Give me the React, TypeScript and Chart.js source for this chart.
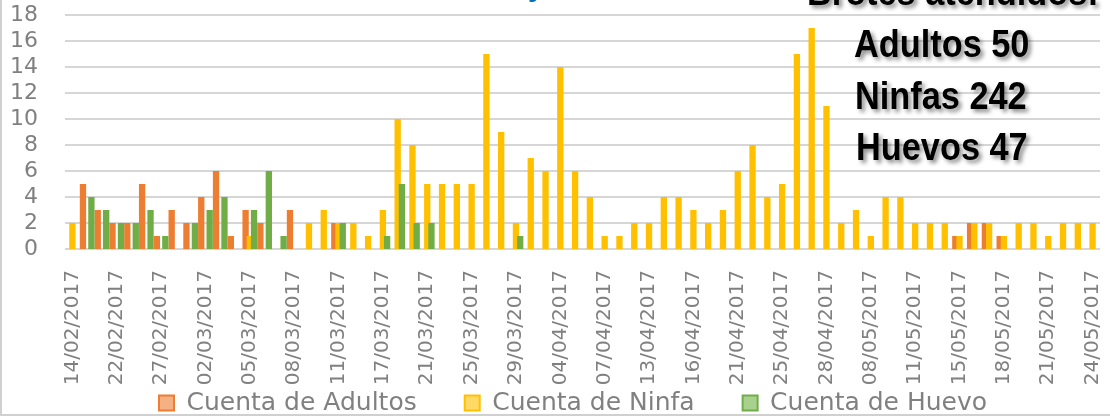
import React, { useEffect, useRef } from 'react';
import { Chart, registerables } from 'chart.js';

Chart.register(...registerables);

// Categories (observation dates)
const dates: string[] = [
  '14/02/2017', '16/02/2017', '20/02/2017', '22/02/2017', '23/02/2017', '24/02/2017', '27/02/2017', '28/02/2017', '01/03/2017', '02/03/2017',
  '03/03/2017', '04/03/2017', '05/03/2017', '06/03/2017', '07/03/2017', '08/03/2017', '09/03/2017', '10/03/2017', '11/03/2017', '14/03/2017',
  '16/03/2017', '17/03/2017', '18/03/2017', '20/03/2017', '21/03/2017', '22/03/2017', '23/03/2017', '25/03/2017', '27/03/2017', '28/03/2017',
  '29/03/2017', '30/03/2017', '31/03/2017', '04/04/2017', '05/04/2017', '06/04/2017', '07/04/2017', '10/04/2017', '11/04/2017', '13/04/2017',
  '14/04/2017', '15/04/2017', '16/04/2017', '18/04/2017', '20/04/2017', '21/04/2017', '22/04/2017', '24/04/2017', '25/04/2017', '26/04/2017',
  '27/04/2017', '28/04/2017', '02/05/2017', '05/05/2017', '08/05/2017', '09/05/2017', '10/05/2017', '11/05/2017', '12/05/2017', '13/05/2017',
  '15/05/2017', '16/05/2017', '17/05/2017', '18/05/2017', '19/05/2017', '20/05/2017', '21/05/2017', '22/05/2017', '23/05/2017', '24/05/2017',
];

// Series values
const adultos: number[] = [
  0, 5, 3, 2, 2, 5, 1, 3, 2, 4,
  6, 1, 3, 2, 0, 3, 0, 0, 2, 0,
  0, 0, 0, 0, 0, 0, 0, 0, 0, 0,
  0, 0, 0, 0, 0, 0, 0, 0, 0, 0,
  0, 0, 0, 0, 0, 0, 0, 0, 0, 0,
  0, 0, 0, 0, 0, 0, 0, 0, 0, 0,
  1, 2, 2, 1, 0, 0, 0, 0, 0, 0,
];

const ninfas: number[] = [
  2, 0, 0, 0, 0, 0, 0, 0, 0, 0,
  0, 0, 1, 0, 0, 0, 2, 3, 2, 2,
  1, 3, 10, 8, 5, 5, 5, 5, 15, 9,
  2, 7, 6, 14, 6, 4, 1, 1, 2, 2,
  4, 4, 3, 2, 3, 6, 8, 4, 5, 15,
  17, 11, 2, 3, 1, 4, 4, 2, 2, 2,
  1, 2, 2, 1, 2, 2, 1, 2, 2, 2,
];

const huevos: number[] = [
  0, 4, 3, 2, 2, 3, 1, 0, 2, 3,
  4, 0, 3, 6, 1, 0, 0, 0, 2, 0,
  0, 1, 5, 2, 2, 0, 0, 0, 0, 0,
  1, 0, 0, 0, 0, 0, 0, 0, 0, 0,
  0, 0, 0, 0, 0, 0, 0, 0, 0, 0,
  0, 0, 0, 0, 0, 0, 0, 0, 0, 0,
  0, 0, 0, 0, 0, 0, 0, 0, 0, 0,
];

const seriesNames: string[] = ['Cuenta de Adultos', 'Cuenta de Ninfa', 'Cuenta de Huevo'];
const seriesColors: string[] = ['#ED7D31', '#FFC000', '#70AD47'];
const legendFills: string[] = ['#F4B183', '#FFD966', '#A9D18E'];

const yMin = 0;
const yMax = 18;
const yStep = 2;
const labelEvery = 3;

const summaryTitle = 'Brotes atendidos:';
const summaryNames: string[] = ['Adultos', 'Ninfas', 'Huevos'];

const gridColor = '#c8c8c8';

const sum = (a: number[]) => a.reduce((s, v) => s + v, 0);

// Horizontal value grid (from the y scale ticks) behind the bars, then the
// datasets drawn so that later series sit on top of earlier ones
const drawOrderPlugin = {
  id: 'drawOrder',
  beforeDatasetsDraw(chart: any) {
    const ctx = chart.ctx;
    const area = chart.chartArea;
    const ys = chart.scales.y;
    ctx.save();
    ctx.globalAlpha = 1;
    ctx.globalCompositeOperation = 'source-over';
    ctx.strokeStyle = gridColor;
    ctx.lineWidth = 1.5;
    ctx.setLineDash([]);
    for (const t of ys.ticks) {
      const y = Math.round(ys.getPixelForValue(t.value));
      ctx.beginPath();
      ctx.moveTo(area.left, y);
      ctx.lineTo(area.right, y);
      ctx.stroke();
    }
    ctx.restore();

    ctx.save();
    ctx.beginPath();
    ctx.rect(area.left, area.top - 2, area.right - area.left, area.bottom - area.top + 2);
    ctx.clip();
    for (let i = 0; i < chart.data.datasets.length; i++) {
      const meta = chart.getDatasetMeta(i);
      if (!meta.hidden) meta.controller.draw();
    }
    ctx.restore();
    return false;
  },
};

// Place the legend row where the original has it
const legendPlacePlugin = {
  id: 'legendPlace',
  afterLayout(chart: any) {
    const lg = chart.legend;
    if (!lg) return;
    const shift = 23;
    lg.left += shift;
    lg.right += shift;
    const itemH = 25;
    const pad = lg.options.labels.padding;
    lg.top = 403 - pad - itemH / 2;
    lg.bottom = chart.height;
    lg.height = lg.bottom - lg.top;
  },
};

const annotationPlugin = {
  id: 'summaryText',
  afterDraw(chart: any) {
    const ctx = chart.ctx;
    const totals = [sum(adultos), sum(ninfas), sum(huevos)];
    const lines: { text: string; x: number; y: number }[] = [
      { text: summaryTitle, x: 807, y: 5 },
      { text: `${summaryNames[0]} ${totals[0]}`, x: 854, y: 57 },
      { text: `${summaryNames[1]} ${totals[1]}`, x: 855, y: 108.5 },
      { text: `${summaryNames[2]} ${totals[2]}`, x: 856, y: 160 },
    ];
    ctx.save();
    ctx.font = 'bold 39px "Liberation Sans", Arial, sans-serif';
    ctx.textBaseline = 'alphabetic';
    ctx.textAlign = 'left';
    ctx.fillStyle = '#000000';
    ctx.shadowColor = 'rgba(0,0,0,0.45)';
    ctx.shadowBlur = 4;
    ctx.shadowOffsetX = 3;
    ctx.shadowOffsetY = 3;
    for (const l of lines) {
      ctx.save();
      ctx.translate(l.x, l.y);
      ctx.scale(0.88, 1);
      ctx.fillText(l.text, 0, 0);
      ctx.restore();
    }
    ctx.restore();

    // fragment of the (cropped) blue title
    ctx.save();
    ctx.font = 'bold 30px "Liberation Sans", Arial, sans-serif';
    ctx.textBaseline = 'alphabetic';
    ctx.textAlign = 'left';
    ctx.fillStyle = '#0070C0';
    ctx.fillText('y', 528, -4);
    ctx.restore();

    // chart frame edges
    ctx.save();
    ctx.strokeStyle = '#d0d0d0';
    ctx.lineWidth = 2;
    ctx.setLineDash([]);
    ctx.beginPath();
    ctx.moveTo(1, 0);
    ctx.lineTo(1, 416);
    ctx.moveTo(0, 415);
    ctx.lineTo(1110, 415);
    ctx.stroke();
    ctx.restore();
  },
};

export default function App() {
  const canvasRef = useRef<HTMLCanvasElement | null>(null);

  useEffect(() => {
    if (!canvasRef.current) return;
    const values = [adultos, ninfas, huevos];
    const chart = new Chart(canvasRef.current, {
      type: 'bar',
      data: {
        labels: dates,
        datasets: values.map((v, i) => ({
          label: seriesNames[i],
          data: v,
          backgroundColor: seriesColors[i],
          borderWidth: 0,
          categoryPercentage: 0.855,
          barPercentage: 1.5,
        })),
      },
      options: {
        responsive: false,
        animation: false,
        layout: { padding: { top: 15, right: 10, left: 0, bottom: 0 } },
        plugins: {
          tooltip: { enabled: false },
          legend: {
            position: 'bottom',
            maxHeight: 30,
            labels: {
              boxWidth: 15,
              boxHeight: 15,
              padding: 48,
              color: '#808080',
              font: { family: '"DejaVu Sans", sans-serif', size: 25 },
              generateLabels: () =>
                seriesNames.map((n, i) => ({
                  text: n,
                  fillStyle: legendFills[i],
                  strokeStyle: seriesColors[i],
                  lineWidth: 2,
                  hidden: false,
                  datasetIndex: i,
                  fontColor: '#808080',
                })),
            },
          },
        },
        scales: {
          x: {
            grid: { display: false },
            border: { display: false },
            ticks: {
              autoSkip: false,
              maxRotation: 90,
              minRotation: 90,
              padding: 13,
              color: '#808080',
              font: { family: '"DejaVu Sans", sans-serif', size: 20 },
              callback: (_v: any, i: number) => (i % labelEvery === 0 ? dates[i] : ''),
            },
            afterFit: (scale: any) => {
              scale.height = 137;
              scale.paddingLeft = 0;
              scale.paddingRight = 0;
            },
          },
          y: {
            min: yMin,
            max: yMax,
            grid: { display: false, drawTicks: false },
            border: { display: false },
            ticks: {
              stepSize: yStep,
              autoSkip: false,
              padding: 27,
              color: '#808080',
              font: { family: '"DejaVu Sans", sans-serif', size: 22 },
            },
            afterFit: (scale: any) => {
              scale.width = 65;
              scale.paddingTop = 0;
              scale.paddingBottom = 0;
            },
          },
        },
      },
      plugins: [drawOrderPlugin, legendPlacePlugin, annotationPlugin],
    } as any);
    return () => chart.destroy();
  }, []);

  return (
    <div style={{ position: 'absolute', left: 0, top: 0, width: 1110, height: 416 }}>
      <canvas ref={canvasRef} width={1110} height={416} />
    </div>
  );
}
